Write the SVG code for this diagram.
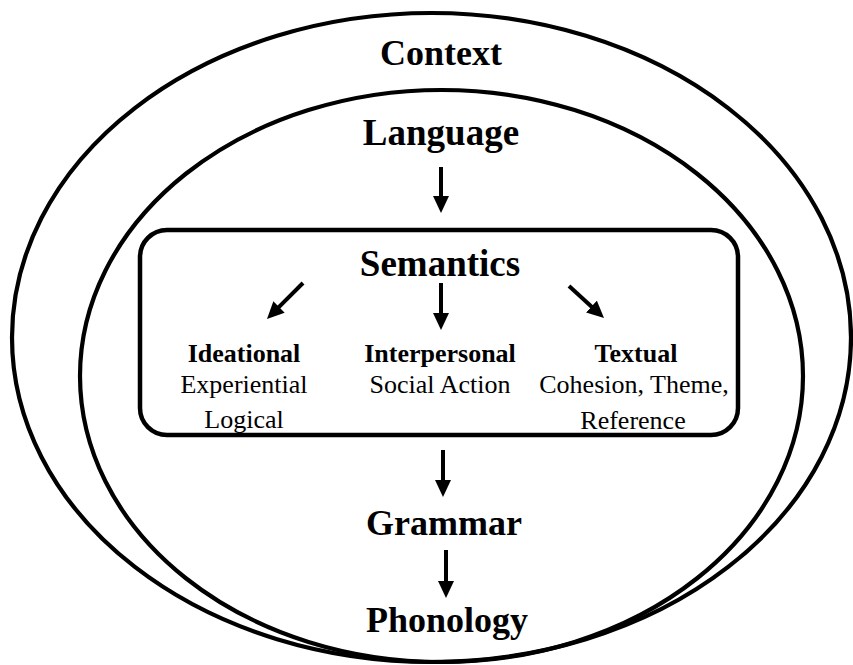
<svg xmlns="http://www.w3.org/2000/svg" width="853" height="665" viewBox="0 0 853 665">
  <defs>
    <marker id="ah" markerUnits="userSpaceOnUse" markerWidth="18" markerHeight="18" refX="1" refY="8" orient="auto">
      <path d="M0,0 L17,8 L0,16 z" fill="#000"/>
    </marker>
    <style>
      .ring { fill: none; stroke: #000; stroke-width: 4.2; }
      .box { fill: none; stroke: #000; stroke-width: 4.5; }
      .big { font-family: "Liberation Serif", "Times New Roman", serif; font-weight: bold; font-size: 36px; text-anchor: middle; fill: #000; }
      .hd { font-family: "Liberation Serif", "Times New Roman", serif; font-weight: bold; font-size: 26px; text-anchor: middle; fill: #000; }
      .tx { font-family: "Liberation Serif", "Times New Roman", serif; font-size: 26px; text-anchor: middle; fill: #000; }
      .arr { stroke: #000; stroke-width: 4; fill: none; marker-end: url(#ah); }
    </style>
  </defs>
  <rect width="853" height="665" fill="#fff"/>

  <g id="context">
    <ellipse class="ring" cx="431.5" cy="337.5" rx="419.5" ry="324.5"/>
    <text class="big" x="441" y="65">Context</text>
  </g>

  <g id="language">
    <ellipse class="ring" cx="441.5" cy="376" rx="361.5" ry="286"/>
    <text class="big" x="441" y="145" style="font-size:37px">Language</text>
  </g>

  <g id="semantics">
    <rect class="box" x="140" y="230" width="598" height="205" rx="27" ry="27"/>
    <text class="big" x="440" y="276" style="font-size:37px">Semantics</text>
  </g>

  <g id="ideational">
    <text class="hd" x="244" y="362">Ideational</text>
    <text class="tx" x="244" y="393">Experiential</text>
    <text class="tx" x="244" y="428">Logical</text>
  </g>

  <g id="interpersonal">
    <text class="hd" x="440" y="362">Interpersonal</text>
    <text class="tx" x="440" y="393">Social Action</text>
  </g>

  <g id="textual">
    <text class="hd" x="636" y="362">Textual</text>
    <text class="tx" x="634" y="393">Cohesion, Theme,</text>
    <text class="tx" x="633" y="429">Reference</text>
  </g>

  <g id="grammar">
    <text class="big" x="444" y="535">Grammar</text>
  </g>

  <g id="phonology">
    <text class="big" x="447" y="632">Phonology</text>
  </g>

  <g id="connectors">
    <line class="arr" x1="441" y1="167" x2="441" y2="197"/>
    <line class="arr" x1="303" y1="283" x2="278.3" y2="307.7"/>
    <line class="arr" x1="441" y1="283" x2="441" y2="314"/>
    <line class="arr" x1="569" y1="286" x2="592.2" y2="307.2"/>
    <line class="arr" x1="443" y1="450" x2="443" y2="481"/>
    <line class="arr" x1="446" y1="550" x2="446" y2="582"/>
  </g>
</svg>
